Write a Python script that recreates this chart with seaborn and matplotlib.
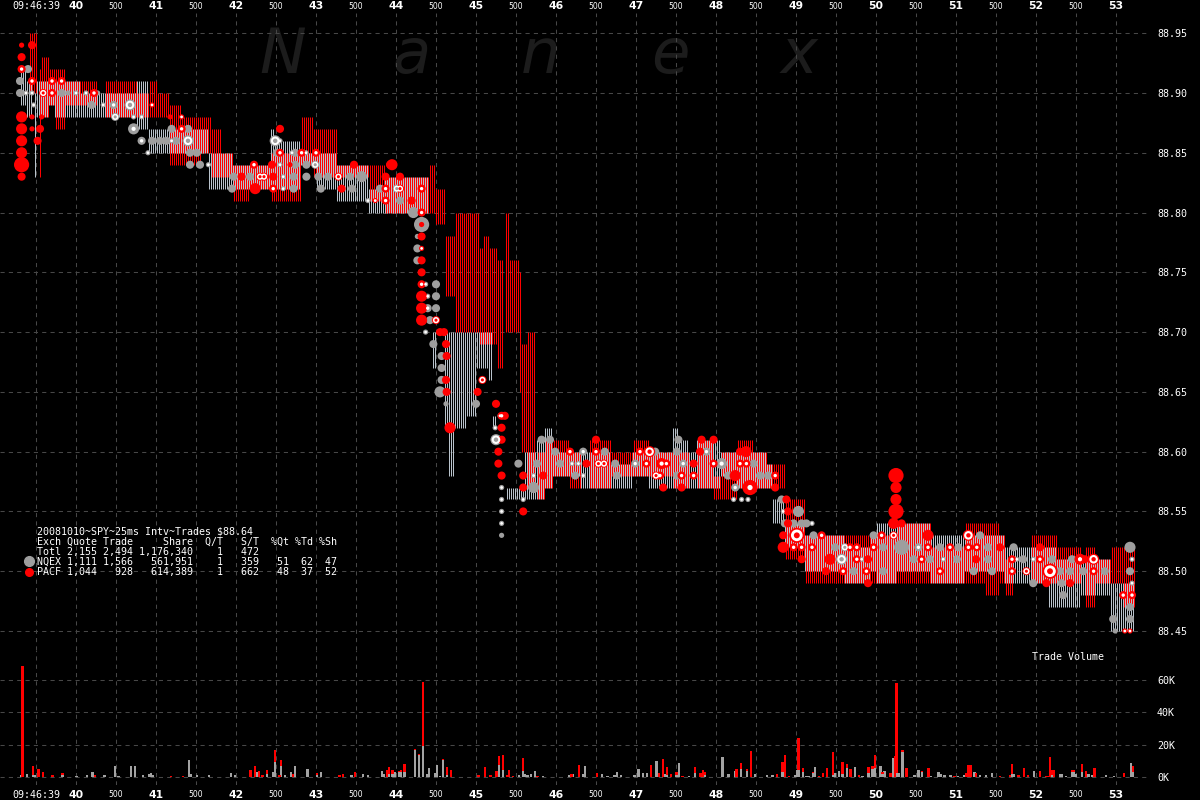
import numpy as np
import pandas as pd
import seaborn as sns
import matplotlib.pyplot as plt
from matplotlib.lines import Line2D

# quote runs: (start s, end s, bid, ask), seconds after 09:46:00
nqex_quotes = [
    (39.30, 39.375, 88.89, 88.92), (39.375, 39.45, 88.88, 88.91), (39.475, 39.50, 88.83, 88.90),
    (39.50, 39.64, 88.88, 88.91), (39.64, 39.72, 88.89, 88.91), (39.72, 40.05, 88.88, 88.91),
    (40.05, 40.34, 88.88, 88.90), (40.34, 40.76, 88.88, 88.90), (40.76, 40.89, 88.87, 88.91),
    (40.89, 41.64, 88.85, 88.87), (41.64, 41.96, 88.82, 88.85), (41.96, 42.42, 88.82, 88.84),
    (42.42, 42.48, 88.82, 88.87), (42.48, 42.80, 88.82, 88.86), (42.80, 42.99, 88.84, 88.85),
    (42.99, 43.26, 88.82, 88.85), (43.26, 43.64, 88.81, 88.84), (43.64, 43.84, 88.80, 88.82),
    (43.84, 44.39, 88.80, 88.83), (44.45, 44.50, 88.67, 88.70), (44.60, 44.65, 88.62, 88.70),
    (44.65, 44.72, 88.58, 88.70), (44.72, 44.88, 88.62, 88.70), (44.88, 44.99, 88.63, 88.70),
    (44.99, 45.15, 88.67, 88.70), (45.15, 45.20, 88.66, 88.70), (45.20, 45.26, 88.62, 88.63),
    (45.38, 45.51, 88.56, 88.57), (45.51, 45.60, 88.56, 88.57), (45.60, 45.74, 88.56, 88.60),
    (45.74, 45.84, 88.56, 88.61), (45.84, 45.96, 88.57, 88.62), (45.96, 46.30, 88.58, 88.60),
    (46.30, 46.68, 88.57, 88.60), (46.68, 46.96, 88.57, 88.59), (46.96, 47.14, 88.58, 88.60),
    (47.14, 47.46, 88.57, 88.60), (47.46, 47.52, 88.57, 88.62), (47.52, 47.64, 88.57, 88.61),
    (47.64, 47.76, 88.57, 88.60), (47.76, 48.06, 88.57, 88.61), (48.06, 48.26, 88.58, 88.60),
    (48.26, 48.63, 88.57, 88.60), (48.63, 48.70, 88.57, 88.59), (48.70, 48.84, 88.54, 88.56),
    (48.84, 49.09, 88.52, 88.54), (49.09, 49.59, 88.50, 88.53), (49.59, 49.93, 88.49, 88.52),
    (49.93, 50.01, 88.50, 88.53), (50.01, 50.26, 88.49, 88.54), (50.26, 50.68, 88.50, 88.54),
    (50.68, 51.09, 88.49, 88.53), (51.09, 51.59, 88.50, 88.53), (51.59, 52.16, 88.49, 88.52),
    (52.16, 52.26, 88.47, 88.52), (52.26, 52.55, 88.47, 88.51), (52.55, 52.93, 88.48, 88.51),
    (52.93, 53.22, 88.45, 88.49),
]
pacf_quotes = [
    (39.40, 39.50, 88.90, 88.95), (39.525, 39.55, 88.83, 88.92), (39.55, 39.64, 88.88, 88.93),
    (39.64, 39.72, 88.89, 88.92), (39.72, 39.84, 88.87, 88.92), (39.84, 40.26, 88.89, 88.91),
    (40.34, 40.76, 88.88, 88.91), (40.76, 40.89, 88.88, 88.90), (40.89, 40.99, 88.88, 88.91),
    (40.99, 41.14, 88.88, 88.90), (41.14, 41.30, 88.84, 88.89), (41.30, 41.55, 88.84, 88.88),
    (41.55, 41.68, 88.85, 88.88), (41.68, 41.80, 88.83, 88.87), (41.80, 41.96, 88.83, 88.85),
    (41.96, 42.14, 88.81, 88.84), (42.14, 42.42, 88.82, 88.84), (42.42, 42.80, 88.81, 88.85),
    (42.80, 42.94, 88.84, 88.88), (42.94, 43.26, 88.83, 88.87), (43.26, 43.64, 88.83, 88.84),
    (43.64, 43.84, 88.81, 88.84), (43.84, 44.39, 88.80, 88.83), (44.39, 44.47, 88.80, 88.84),
    (44.47, 44.60, 88.79, 88.82), (44.60, 44.72, 88.73, 88.78), (44.72, 45.03, 88.70, 88.80),
    (45.03, 45.07, 88.69, 88.77), (45.07, 45.15, 88.69, 88.78), (45.15, 45.24, 88.69, 88.77),
    (45.24, 45.32, 88.67, 88.76), (45.34, 45.40, 88.70, 88.80), (45.40, 45.53, 88.70, 88.76),
    (45.53, 45.55, 88.65, 88.75), (45.55, 45.63, 88.60, 88.69), (45.63, 45.72, 88.57, 88.70),
    (45.74, 45.84, 88.56, 88.60), (45.84, 45.96, 88.57, 88.61), (45.96, 46.15, 88.58, 88.61),
    (46.15, 46.30, 88.57, 88.60), (46.40, 46.68, 88.57, 88.61), (46.68, 46.96, 88.58, 88.60),
    (46.96, 47.14, 88.58, 88.61), (47.14, 47.46, 88.58, 88.60), (47.46, 47.64, 88.57, 88.60),
    (47.76, 47.95, 88.57, 88.61), (47.95, 48.06, 88.56, 88.58), (48.06, 48.26, 88.56, 88.60),
    (48.26, 48.45, 88.57, 88.61), (48.45, 48.63, 88.57, 88.60), (48.63, 48.84, 88.57, 88.59),
    (48.84, 49.09, 88.51, 88.56), (49.09, 49.93, 88.49, 88.53), (49.93, 50.26, 88.49, 88.53),
    (50.26, 50.68, 88.49, 88.54), (50.68, 51.09, 88.49, 88.52), (51.09, 51.35, 88.49, 88.54),
    (51.35, 51.52, 88.48, 88.54), (51.52, 51.59, 88.49, 88.53), (51.59, 51.70, 88.48, 88.51),
    (51.93, 52.26, 88.49, 88.53), (52.26, 52.55, 88.49, 88.52), (52.60, 52.72, 88.47, 88.52),
    (52.72, 52.93, 88.49, 88.51), (52.93, 53.07, 88.49, 88.52), (53.07, 53.22, 88.47, 88.52),
]

# trades: (time s, price, size class 1-4, centre: '' plain, 'w' white dot, 'b' white ring)
nqex_trades = [
    (39.30, 88.91, 2, ''), (39.30, 88.90, 2, ''), (39.40, 88.92, 2, ''), (39.375, 88.90, 1, 'w'),
    (39.45, 88.90, 1, 'w'), (39.47, 88.89, 1, 'w'), (39.82, 88.90, 2, ''), (39.90, 88.90, 1, ''),
    (40.00, 88.90, 1, 'w'), (40.125, 88.90, 1, 'w'), (40.195, 88.89, 2, ''), (40.27, 88.90, 1, ''),
    (40.34, 88.89, 1, 'w'), (40.47, 88.89, 2, 'w'), (40.49, 88.88, 2, 'b'), (40.675, 88.89, 3, 'b'),
    (40.72, 88.88, 1, 'w'), (40.82, 88.88, 1, 'w'), (40.72, 88.87, 3, 'w'), (40.82, 88.86, 2, 'w'),
    (40.90, 88.85, 1, 'w'), (40.95, 88.86, 2, ''), (41.05, 88.86, 2, ''), (41.13, 88.86, 2, ''),
    (41.195, 88.86, 1, 'w'), (41.25, 88.86, 2, ''), (41.195, 88.87, 2, ''), (41.40, 88.87, 2, ''),
    (41.40, 88.86, 3, 'b'), (41.425, 88.85, 2, ''), (41.51, 88.85, 2, ''), (41.425, 88.84, 2, ''),
    (41.55, 88.84, 2, ''), (41.655, 88.84, 1, 'w'), (41.97, 88.83, 2, ''), (41.95, 88.82, 2, ''),
    (42.175, 88.83, 2, ''), (42.32, 88.83, 1, 'w'), (42.49, 88.86, 3, 'b'), (42.55, 88.86, 1, 'w'),
    (42.51, 88.85, 2, ''), (42.55, 88.84, 1, 'w'), (42.59, 88.83, 1, 'w'), (42.59, 88.82, 1, 'w'),
    (42.70, 88.85, 1, 'w'), (42.74, 88.85, 2, ''), (42.74, 88.84, 2, ''), (42.72, 88.83, 2, ''),
    (42.72, 88.82, 2, ''), (42.875, 88.85, 1, 'w'), (42.88, 88.84, 2, ''), (42.88, 88.83, 2, ''),
    (42.99, 88.84, 2, 'b'), (43.03, 88.83, 2, ''), (43.06, 88.82, 2, ''), (43.15, 88.83, 2, ''),
    (43.425, 88.83, 2, ''), (43.45, 88.82, 2, ''), (43.57, 88.83, 3, ''), (43.65, 88.81, 1, 'w'),
    (43.80, 88.82, 2, ''), (44.01, 88.82, 2, 'b'), (44.05, 88.81, 2, ''), (44.217, 88.80, 3, ''),
    (44.32, 88.79, 4, ''), (44.267, 88.78, 1, ''), (44.267, 88.77, 2, ''), (44.267, 88.76, 2, ''),
    (44.37, 88.74, 1, 'w'), (44.50, 88.74, 2, ''), (44.396, 88.73, 1, 'w'), (44.50, 88.73, 2, ''),
    (44.396, 88.72, 2, 'w'), (44.50, 88.72, 2, ''), (44.425, 88.71, 2, ''), (44.37, 88.70, 1, 'w'),
    (44.467, 88.69, 2, ''), (44.57, 88.68, 2, ''), (44.57, 88.67, 2, ''), (44.57, 88.66, 2, ''),
    (44.55, 88.65, 3, ''), (44.625, 88.64, 1, ''), (45.00, 88.64, 2, ''), (45.24, 88.62, 1, 'w'),
    (45.25, 88.61, 3, 'b'), (45.30, 88.63, 1, 'w'), (45.32, 88.57, 1, 'w'), (45.32, 88.56, 1, 'w'),
    (45.32, 88.55, 1, 'w'), (45.32, 88.54, 1, 'w'), (45.32, 88.53, 1, ''), (45.53, 88.59, 2, ''),
    (45.59, 88.56, 1, 'w'), (45.72, 88.58, 1, 'w'), (45.72, 88.57, 3, ''), (45.76, 88.59, 2, ''),
    (45.82, 88.61, 2, ''), (45.925, 88.61, 2, ''), (45.99, 88.60, 2, ''), (46.05, 88.59, 2, ''),
    (46.20, 88.59, 1, 'w'), (46.28, 88.59, 1, 'w'), (46.34, 88.60, 2, 'w'), (46.24, 88.58, 2, ''),
    (46.34, 88.58, 1, 'w'), (46.61, 88.60, 2, ''), (46.74, 88.59, 2, ''), (46.76, 88.58, 2, ''),
    (46.99, 88.59, 2, 'w'), (47.24, 88.60, 2, ''), (47.51, 88.58, 2, ''), (47.53, 88.61, 2, ''),
    (47.51, 88.60, 2, ''), (47.59, 88.59, 2, 'w'), (47.88, 88.60, 2, 'w'), (48.07, 88.59, 3, 'w'),
    (48.15, 88.58, 2, ''), (48.24, 88.57, 2, 'w'), (48.22, 88.56, 1, 'w'), (48.32, 88.56, 1, 'w'),
    (48.40, 88.56, 1, 'w'), (48.47, 88.59, 2, ''), (48.55, 88.58, 2, ''), (48.65, 88.58, 2, ''),
    (48.82, 88.56, 2, ''), (48.84, 88.55, 1, 'w'), (48.86, 88.54, 2, ''), (48.97, 88.54, 2, ''),
    (49.03, 88.55, 3, ''), (49.07, 88.54, 2, ''), (49.13, 88.54, 2, ''), (49.20, 88.54, 1, 'w'),
    (49.22, 88.53, 2, ''), (49.49, 88.52, 2, ''), (49.57, 88.51, 3, 'b'), (49.61, 88.52, 2, 'b'),
    (49.72, 88.50, 2, ''), (49.82, 88.51, 1, 'w'), (49.97, 88.53, 2, ''), (50.09, 88.52, 2, ''),
    (50.09, 88.50, 2, ''), (50.32, 88.52, 4, ''), (50.47, 88.51, 2, ''), (50.53, 88.52, 2, 'w'),
    (50.675, 88.51, 2, ''), (50.80, 88.52, 2, ''), (50.84, 88.51, 1, 'w'), (51.01, 88.51, 2, ''),
    (51.03, 88.52, 2, ''), (51.22, 88.50, 2, ''), (51.30, 88.53, 2, ''), (51.40, 88.52, 2, ''),
    (51.40, 88.51, 2, ''), (51.45, 88.50, 2, ''), (51.72, 88.52, 2, ''), (51.76, 88.51, 1, 'w'),
    (51.84, 88.51, 2, ''), (51.965, 88.51, 1, 'w'), (51.965, 88.49, 2, ''), (52.20, 88.51, 2, ''),
    (52.30, 88.50, 2, ''), (52.32, 88.49, 2, ''), (52.34, 88.48, 2, ''), (52.425, 88.50, 2, ''),
    (52.45, 88.51, 2, ''), (52.55, 88.51, 2, 'w'), (52.59, 88.50, 2, ''), (52.86, 88.50, 2, ''),
    (52.965, 88.46, 2, ''), (52.99, 88.45, 1, ''), (53.175, 88.52, 3, ''), (53.20, 88.51, 1, 'w'),
    (53.175, 88.50, 2, ''), (53.20, 88.49, 1, 'w'), (53.175, 88.47, 2, ''), (53.175, 88.46, 2, ''),
]
pacf_trades = [
    (39.32, 88.94, 1, ''), (39.45, 88.94, 2, ''), (39.32, 88.93, 2, ''), (39.32, 88.92, 2, 'w'),
    (39.45, 88.91, 2, 'w'), (39.32, 88.88, 3, ''), (39.45, 88.88, 1, ''), (39.57, 88.88, 1, ''),
    (39.32, 88.87, 3, ''), (39.45, 88.87, 1, ''), (39.55, 88.87, 2, ''), (39.32, 88.86, 3, ''),
    (39.52, 88.86, 2, ''), (39.32, 88.85, 3, ''), (39.32, 88.84, 4, ''), (39.32, 88.83, 2, ''),
    (39.59, 88.90, 2, 'b'), (39.70, 88.91, 2, 'w'), (39.70, 88.90, 2, 'w'), (39.82, 88.91, 2, 'w'),
    (40.225, 88.90, 2, 'w'), (40.95, 88.89, 1, 'w'), (41.175, 88.88, 1, ''), (41.32, 88.88, 1, 'w'),
    (41.32, 88.87, 2, 'w'), (42.07, 88.83, 2, ''), (42.225, 88.84, 2, 'w'), (42.30, 88.83, 2, 'b'),
    (42.35, 88.83, 2, 'b'), (42.24, 88.82, 3, ''), (42.465, 88.83, 2, ''), (42.465, 88.82, 2, 'w'),
    (42.55, 88.87, 2, ''), (42.55, 88.85, 2, 'w'), (42.45, 88.84, 2, ''), (42.675, 88.84, 1, ''),
    (42.82, 88.85, 2, 'w'), (43.00, 88.85, 2, 'w'), (43.28, 88.83, 2, 'b'), (43.32, 88.82, 2, ''),
    (43.475, 88.84, 2, ''), (43.74, 88.81, 1, 'w'), (43.925, 88.84, 2, ''), (43.95, 88.84, 3, ''),
    (43.87, 88.83, 2, ''), (44.05, 88.83, 2, ''), (43.87, 88.82, 2, 'w'), (44.05, 88.82, 2, 'b'),
    (44.32, 88.82, 2, 'w'), (43.87, 88.81, 2, 'w'), (44.195, 88.81, 2, ''), (44.32, 88.80, 2, 'w'),
    (44.32, 88.79, 1, ''), (44.32, 88.78, 2, ''), (44.32, 88.77, 1, 'w'), (44.32, 88.76, 2, ''),
    (44.32, 88.75, 2, ''), (44.32, 88.74, 2, 'w'), (44.32, 88.73, 3, ''), (44.32, 88.72, 3, ''),
    (44.32, 88.71, 3, ''), (44.50, 88.71, 2, 'b'), (44.55, 88.70, 2, ''), (44.60, 88.70, 2, ''),
    (44.625, 88.69, 2, ''), (44.633, 88.68, 2, ''), (44.625, 88.66, 2, ''), (44.633, 88.65, 2, ''),
    (44.675, 88.62, 3, ''), (45.02, 88.65, 2, ''), (45.08, 88.66, 2, 'b'), (45.25, 88.64, 2, ''),
    (45.32, 88.63, 2, 'w'), (45.36, 88.63, 2, ''), (45.32, 88.62, 2, ''), (45.32, 88.61, 2, ''),
    (45.28, 88.60, 2, ''), (45.28, 88.59, 2, ''), (45.32, 88.58, 2, ''), (45.59, 88.58, 2, ''),
    (45.59, 88.57, 2, ''), (45.59, 88.55, 2, ''), (45.84, 88.58, 2, ''), (46.175, 88.60, 2, 'w'),
    (46.38, 88.59, 2, ''), (46.50, 88.61, 2, ''), (46.50, 88.60, 2, 'w'), (46.53, 88.59, 2, 'b'),
    (46.60, 88.59, 2, 'b'), (47.05, 88.60, 2, 'w'), (47.13, 88.59, 2, 'w'), (47.17, 88.60, 3, 'b'),
    (47.32, 88.59, 3, 'w'), (47.38, 88.59, 2, 'w'), (47.25, 88.58, 2, 'b'), (47.30, 88.58, 2, 'w'),
    (47.34, 88.57, 2, ''), (47.57, 88.57, 2, ''), (47.57, 88.58, 2, 'w'), (47.72, 88.59, 2, ''),
    (47.72, 88.58, 2, 'w'), (47.80, 88.60, 2, ''), (47.82, 88.61, 2, ''), (47.97, 88.61, 2, ''),
    (47.97, 88.59, 2, 'w'), (48.24, 88.58, 3, ''), (48.30, 88.60, 2, ''), (48.375, 88.60, 3, ''),
    (48.30, 88.59, 2, 'w'), (48.38, 88.59, 2, 'w'), (48.425, 88.57, 4, 'w'), (48.74, 88.58, 2, 'w'),
    (48.74, 88.57, 2, ''), (48.88, 88.56, 2, ''), (48.90, 88.55, 2, ''), (48.90, 88.54, 2, ''),
    (48.84, 88.53, 2, ''), (49.01, 88.53, 4, 'b'), (48.84, 88.52, 3, ''), (48.97, 88.52, 2, 'w'),
    (49.07, 88.52, 2, 'w'), (49.07, 88.51, 2, ''), (49.32, 88.53, 2, 'w'), (49.20, 88.52, 2, 'w'),
    (49.425, 88.51, 3, ''), (49.375, 88.50, 2, ''), (49.59, 88.50, 2, 'w'), (49.675, 88.52, 2, 'w'),
    (49.76, 88.52, 2, 'w'), (49.76, 88.51, 2, 'w'), (49.90, 88.51, 2, ''), (49.88, 88.50, 2, 'w'),
    (49.90, 88.49, 2, ''), (49.97, 88.52, 2, 'w'), (50.07, 88.53, 2, 'w'), (50.22, 88.53, 2, 'b'),
    (50.22, 88.54, 3, ''), (50.32, 88.54, 2, ''), (50.25, 88.58, 4, ''), (50.25, 88.57, 3, ''),
    (50.25, 88.56, 3, ''), (50.25, 88.55, 4, ''), (50.65, 88.52, 2, 'w'), (50.57, 88.51, 2, 'w'),
    (50.65, 88.53, 3, ''), (50.925, 88.52, 2, 'w'), (50.80, 88.50, 2, 'w'), (51.155, 88.53, 3, 'b'),
    (51.155, 88.52, 2, 'w'), (51.25, 88.51, 2, ''), (51.26, 88.52, 2, 'w'), (51.55, 88.52, 2, ''),
    (51.70, 88.51, 2, 'w'), (51.70, 88.50, 2, 'w'), (51.88, 88.50, 2, 'b'), (52.05, 88.51, 2, 'w'),
    (52.05, 88.52, 2, ''), (52.175, 88.50, 4, 'b'), (52.13, 88.49, 2, ''), (52.425, 88.49, 2, ''),
    (52.55, 88.51, 3, 'w'), (52.61, 88.51, 2, ''), (52.72, 88.51, 3, 'b'), (52.72, 88.50, 2, 'w'),
    (53.09, 88.48, 2, 'w'), (53.20, 88.48, 2, 'w'), (53.11, 88.45, 1, 'w'), (53.175, 88.45, 1, 'w'),
]

# trade volume per 25 ms slot: (time s, NQEX thousand shares, PACF thousand shares)
volume_bars = [
    (39.313, 1.5, 0), (39.332, 0, 68.7), (39.385, 2, 0), (39.461, 1.5, 5.5), (39.48, 1.5, 0),
    (39.533, 0, 5), (39.586, 0, 3), (39.705, 0, 1.2), (39.83, 1, 1.5), (40.007, 0.5, 0),
    (40.141, 1, 0), (40.208, 3, 0), (40.236, 0, 1), (40.356, 1, 0), (40.485, 7, 0),
    (40.533, 0.5, 0), (40.686, 7, 0), (40.734, 7, 0), (40.834, 1.5, 0), (40.916, 2, 0),
    (40.94, 2.5, 0), (40.964, 1, 0), (41.188, 0, 0.5), (41.337, 0, 0.7), (41.409, 10.5, 0),
    (41.432, 2, 0), (41.509, 1.5, 0), (41.662, 1.5, 0), (41.935, 2.5, 0), (41.987, 1, 0),
    (42.074, 0, 0.3), (42.183, 0, 4.3), (42.236, 0, 7), (42.255, 3, 0), (42.284, 0, 3.5),
    (42.332, 0, 1), (42.384, 2, 2.3), (42.466, 3, 0), (42.485, 9, 7.6), (42.542, 0, 1.5),
    (42.561, 7, 3.5), (42.614, 1, 0), (42.686, 3, 0), (42.715, 0, 2), (42.734, 7, 0),
    (42.83, 0, 0.3), (42.892, 5, 0), (42.949, 0.3, 0), (43.016, 1, 1.5), (43.059, 3, 0),
    (43.164, 0.3, 0), (43.293, 0, 1.3), (43.336, 0, 2), (43.442, 1, 0), (43.49, 0, 3),
    (43.585, 2, 0), (43.652, 1, 0), (43.824, 3.7, 0), (43.848, 2, 0), (43.891, 0, 4.3),
    (43.915, 2, 4), (43.958, 2, 2.3), (43.987, 3, 0), (44.035, 3, 0.6), (44.064, 3, 1.2),
    (44.107, 3, 5), (44.178, 0.3, 0), (44.241, 16.5, 0.6), (44.289, 13.6, 0.6), (44.336, 19, 39.6),
    (44.389, 2, 0), (44.413, 5.5, 0), (44.484, 2.5, 0), (44.513, 7.4, 0), (44.551, 0.6, 0),
    (44.585, 10.5, 0.5), (44.638, 1, 5), (44.686, 0, 4.3), (45.03, 0, 1.5), (45.116, 0, 6),
    (45.183, 0, 1), (45.255, 0, 3.7), (45.288, 7.4, 5.6), (45.336, 4.3, 9.3), (45.384, 0, 1),
    (45.413, 0, 4.3), (45.46, 0, 0.6), (45.537, 1, 0), (45.585, 3.7, 8.1), (45.614, 2, 0),
    (45.642, 1.5, 0), (45.69, 2, 0), (45.738, 3.7, 0), (45.771, 0, 0.6), (45.834, 0.6, 0),
    (45.853, 0, 0.3), (46.168, 1, 0), (46.192, 0, 2), (46.216, 2, 0), (46.288, 0, 7.4),
    (46.336, 2, 0), (46.36, 7, 0), (46.513, 0, 2.5), (46.574, 2, 0), (46.646, 0.6, 0),
    (46.732, 1.2, 0), (46.76, 3, 0), (46.813, 1, 0), (46.98, 1, 0), (47.033, 5, 0),
    (47.086, 2.5, 0), (47.134, 2.5, 0), (47.186, 0, 7.4), (47.258, 10, 0), (47.287, 0, 2.5),
    (47.335, 0, 11), (47.363, 2, 0), (47.387, 1.5, 4.5), (47.44, 0, 2), (47.507, 1, 2),
    (47.536, 8.7, 0), (47.583, 0, 0.6), (47.66, 0.6, 0), (47.736, 2.5, 3.5), (47.808, 0, 2.5),
    (47.837, 0, 4.3), (47.861, 1.5, 1.5), (47.961, 0, 0.3), (47.985, 0, 0.3), (48.081, 12.4, 0),
    (48.157, 2, 0), (48.234, 3.7, 0), (48.258, 0, 5), (48.31, 5, 3.7), (48.387, 3.7, 1.3),
    (48.435, 0, 16), (48.488, 2, 0), (48.559, 0.3, 0), (48.636, 1, 0), (48.708, 1, 0),
    (48.76, 0, 2), (48.832, 3, 6.3), (48.861, 0, 13.6), (48.909, 0, 0.6), (48.985, 1, 0),
    (49.009, 4.3, 0), (49.033, 4.3, 19.7), (49.086, 3, 2.5), (49.133, 0.6, 0), (49.157, 0.6, 0),
    (49.21, 2.5, 0.5), (49.234, 6, 0), (49.286, 0, 0.6), (49.334, 0, 2.5), (49.387, 0, 5.5),
    (49.459, 1, 14.5), (49.483, 2.5, 0), (49.535, 3.7, 0), (49.583, 2, 7.3), (49.636, 5.5, 2.5),
    (49.683, 0, 5), (49.736, 6, 0), (49.784, 0, 1), (49.832, 0.6, 0), (49.908, 2.5, 3.5),
    (49.956, 5, 2), (49.985, 5.5, 8.1), (50.057, 7, 0), (50.08, 2, 1), (50.105, 3.7, 0),
    (50.181, 0, 2.5), (50.21, 11.8, 0), (50.234, 0, 13), (50.258, 2.5, 55.5), (50.281, 2.5, 0),
    (50.329, 15.5, 1.2), (50.382, 0, 5.5), (50.482, 1, 0), (50.53, 4.3, 0), (50.578, 3, 0.6),
    (50.655, 0, 5.5), (50.679, 0.6, 0), (50.779, 3, 0), (50.808, 2, 0), (50.856, 1, 0),
    (50.932, 1, 0), (50.98, 0, 0.6), (51.028, 0.6, 0), (51.104, 1, 0), (51.128, 0, 2.5),
    (51.152, 0, 7.4), (51.181, 0, 7.4), (51.229, 3, 0), (51.253, 0, 2.5), (51.3, 1, 0),
    (51.377, 1, 0), (51.449, 2.5, 0), (51.55, 0, 0.6), (51.678, 0, 1), (51.702, 2, 6),
    (51.726, 2, 0), (51.779, 0, 1), (51.851, 0, 5.5), (51.903, 0, 1), (51.975, 3.7, 0),
    (52.052, 0, 3.7), (52.128, 0, 0.6), (52.152, 0, 0.6), (52.176, 0, 12.4), (52.2, 1, 3.3),
    (52.224, 0, 4.3), (52.3, 2, 0), (52.324, 2, 0), (52.377, 0.6, 0), (52.449, 3, 1.3),
    (52.478, 3, 1.3), (52.502, 2, 0), (52.578, 3, 5), (52.626, 0, 3.7), (52.655, 2, 0),
    (52.698, 1, 0), (52.732, 0, 5.5), (52.874, 1, 0), (52.975, 0.6, 0), (53.099, 0, 2.5),
    (53.19, 8.7, 0), (53.214, 3, 4),
]

time_ticks = [39.5 + 0.5 * i for i in range(28)]
time_labels = ['09:46:39'] + [lab for s in range(40, 54) for lab in (str(s), '500')][:-1]
price_ticks = [88.45, 88.50, 88.55, 88.60, 88.65, 88.70, 88.75, 88.80, 88.85, 88.90, 88.95]
volume_ticks = [0, 20, 40, 60]
stats_lines = [
    '20081010~SPY~25ms Intv~Trades $88.64',
    'Exch Quote Trade     Share  Q/T   S/T  %Qt %Td %Sh',
    'Totl 2,155 2,494 1,176,340    1   472',
    'NQEX 1,111 1,566   561,951    1   359   51  62  47',
    'PACF 1,044   928   614,389    1   662   48  37  52',
]

RED = '#ff0000'
GRAY_DOT = '#9e9e9e'
GRAY_QUOTE = '#b9c3cc'
GRID = '#474747'
SLOT = 0.025   # 25 ms interval = 2 px at this scale

sns.set_theme(style='dark', rc={'axes.facecolor': 'black', 'figure.facecolor': 'black',
                                'axes.edgecolor': 'black', 'text.color': 'white'})
plt.rcParams['font.family'] = ['DejaVu Sans']
MONO = 'DejaVu Sans Mono'

W, H = 1200, 800
fig = plt.figure(figsize=(12, 8), dpi=100)
ax = fig.add_axes([0, 1 - 650 / H, 1150 / W, 637 / H])
axv = fig.add_axes([0, 1 - 785 / H, 1150 / W, 135 / H], sharex=ax)


def quote_slots(runs, offset):
    xs, lo, hi = [], [], []
    for t0, t1, bid, ask in runs:
        for k in range(int(round(t0 / SLOT)), int(round(t1 / SLOT))):
            xs.append(k * SLOT + offset)
            lo.append(bid)
            hi.append(ask)
    return xs, lo, hi


# one 1-px line per 25 ms slot, NQEX and PACF side by side so they interleave
for runs, col, off in [(nqex_quotes, GRAY_QUOTE, SLOT / 4), (pacf_quotes, RED, 3 * SLOT / 4)]:
    xs, lo, hi = quote_slots(runs, off)
    ax.vlines(xs, lo, hi, colors=col, linewidth=0.72, zorder=2)

trades = pd.concat([
    pd.DataFrame(nqex_trades, columns=['t', 'px', 'sz', 'mark']).assign(exch='NQEX'),
    pd.DataFrame(pacf_trades, columns=['t', 'px', 'sz', 'mark']).assign(exch='PACF'),
], ignore_index=True)
palette = {'NQEX': GRAY_DOT, 'PACF': RED}

sns.scatterplot(data=trades, x='t', y='px', hue='exch', palette=palette, size='sz',
                sizes={1: 14, 2: 34, 3: 64, 4: 120}, legend=False, linewidth=0,
                ax=ax, zorder=3)
dots = trades[trades['mark'] == 'w']
sns.scatterplot(data=dots, x='t', y='px', color='white', size='sz',
                sizes={1: 4, 2: 6, 3: 9, 4: 14}, legend=False, linewidth=0, ax=ax, zorder=4)
rings = trades[trades['mark'] == 'b']
sns.scatterplot(data=rings, x='t', y='px', color='white', size='sz',
                sizes={1: 8, 2: 20, 3: 38, 4: 70}, legend=False, linewidth=0, ax=ax, zorder=4)
sns.scatterplot(data=rings, x='t', y='px', hue='exch', palette=palette, size='sz',
                sizes={1: 2, 2: 5, 3: 10, 4: 18}, legend=False, linewidth=0, ax=ax, zorder=5)

vol = pd.DataFrame(volume_bars, columns=['t', 'nqex', 'pacf'])
axv.bar(vol['t'], vol['nqex'], width=0.03, color='#a3a3a3', linewidth=0, zorder=2)
axv.bar(vol['t'], vol['pacf'], bottom=vol['nqex'], width=0.03, color=RED, linewidth=0, zorder=2)

grid_kw = dict(color=GRID, linestyle=(0, (4, 4)), linewidth=0.75)
for a in (ax, axv):
    a.set_facecolor('black')
    a.set_axisbelow(True)
    a.grid(True, **grid_kw)
    a.set(xlabel='', ylabel='')
    for sp in a.spines.values():
        sp.set_visible(False)
    a.yaxis.tick_right()
    a.tick_params(axis='y', length=0, pad=5, labelcolor='white', labelsize=7.2)
    a.tick_params(axis='x', length=0, labelcolor='white')

ax.set_xlim(39.05, 53.425)
ax.set_ylim(88.4341, 88.9669)
ax.set_yticks(price_ticks)
ax.set_yticklabels([f'{p:.2f}' for p in price_ticks])
axv.set_ylim(-4.95, 78.5)
axv.set_yticks(volume_ticks)
axv.set_yticklabels([f'{v}K' for v in volume_ticks])

ax.set_xticks(time_ticks)
ax.xaxis.tick_top()
ax.tick_params(axis='x', pad=1.5)
ax.set_xticklabels(time_labels)
axv.xaxis.tick_bottom()
axv.tick_params(axis='x', pad=3.5, labelbottom=True)
axv.set_xticklabels(time_labels)


def style_time_labels(labels):
    for lab in labels:
        txt = lab.get_text()
        if txt == '500':
            lab.set_fontsize(5.5)
        elif ':' in txt:
            lab.set_fontfamily(MONO)
            lab.set_fontsize(7.2)
        else:
            lab.set_fontsize(7.8)
            lab.set_fontweight('bold')


style_time_labels(ax.get_xticklabels())
style_time_labels(axv.get_xticklabels())
for lab in ax.get_yticklabels() + axv.get_yticklabels():
    lab.set_fontfamily(MONO)

# faint watermark
for i, ch in enumerate('Nanex'):
    ax.text((283 + 129 * i) / W, 1 - 73 / H, ch, transform=fig.transFigure, ha='center',
            va='baseline', fontsize=45, style='italic', color='#1c1c1c', zorder=0.5)

# stats block with legend dots
for y, line in zip([531, 541.5, 551.5, 561.5, 571.5], stats_lines):
    fig.text(37 / W, 1 - y / H, line, family=MONO, fontsize=7.2, color='white', va='center')
fig.add_artist(Line2D([29 / W], [1 - 561 / H], marker='o', markersize=7, color=GRAY_DOT,
                      linestyle='none', transform=fig.transFigure))
fig.add_artist(Line2D([29 / W], [1 - 571.5 / H], marker='o', markersize=5.5, color=RED,
                      linestyle='none', transform=fig.transFigure))
fig.text(1032 / W, 1 - 657 / H, 'Trade Volume', family=MONO, fontsize=7.2, color='white',
         va='center')

fig.savefig('out.png', dpi=100, facecolor='black')
